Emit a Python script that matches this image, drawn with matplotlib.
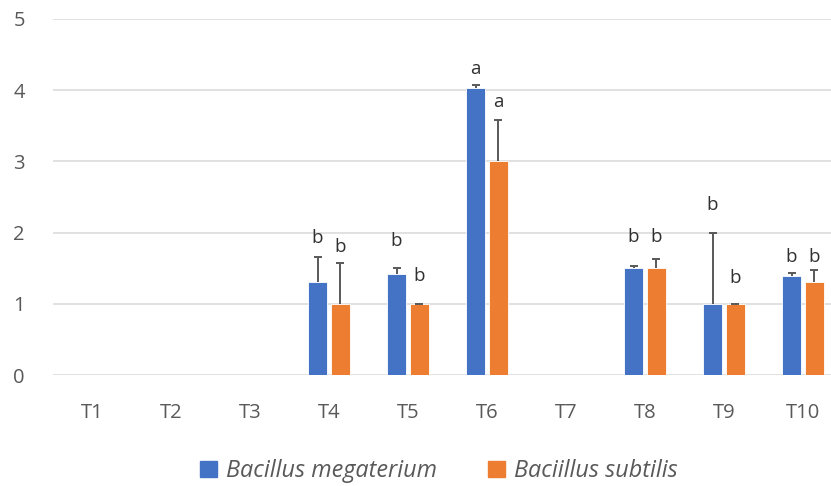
import matplotlib
matplotlib.use("Agg")
import matplotlib.pyplot as plt
import numpy as np

categories = ["T1", "T2", "T3", "T4", "T5", "T6", "T7", "T8", "T9", "T10"]
series_names = ["Bacillus megaterium", "Baciillus subtilis"]
megaterium = [0, 0, 0, 1.30, 1.42, 4.03, 0, 1.50, 1.00, 1.39]
megaterium_err = [0, 0, 0, 0.36, 0.08, 0.05, 0, 0.03, 1.00, 0.04]
subtilis = [0, 0, 0, 1.00, 1.00, 3.00, 0, 1.50, 1.00, 1.30]
subtilis_err = [0, 0, 0, 0.58, 0.00, 0.58, 0, 0.13, 0.00, 0.18]
megaterium_letters = ["", "", "", "b", "b", "a", "", "b", "b", "b"]
subtilis_letters = ["", "", "", "b", "b", "a", "", "b", "b", "b"]
megaterium_letter_y = [0, 0, 0, 1.92, 1.88, 4.30, 0, 1.94, 2.39, 1.66]
subtilis_letter_y = [0, 0, 0, 1.80, 1.39, 3.83, 0, 1.94, 1.36, 1.66]
yticks = [0, 1, 2, 3, 4, 5]

plt.rcParams['font.family'] = ['Open Sans', 'DejaVu Sans']
W, H = 831, 486
fig = plt.figure(figsize=(W / 100, H / 100), dpi=100)
ax = fig.add_axes([52.5 / W, (H - 375) / H, 790 / W, 356 / H])

x = np.arange(len(categories))
bw = 0.23
off = 0.145
blue = "#4472C4"
orange = "#ED7D31"
errc = "#595959"

ax.bar(x - off, megaterium, bw, color=blue, edgecolor="white", linewidth=0.6, zorder=3)
ax.bar(x + off, subtilis, bw, color=orange, edgecolor="white", linewidth=0.6, zorder=3)

for xs, vals, errs in [(x - off, megaterium, megaterium_err), (x + off, subtilis, subtilis_err)]:
    mask = np.array(vals) > 0
    xs_m = xs[mask]
    v = np.array(vals)[mask]
    e = np.array(errs)[mask]
    _, caps, _ = ax.errorbar(xs_m, v, yerr=[np.zeros_like(e), e], fmt="none", ecolor=errc,
                             elinewidth=1.4, capsize=3, capthick=1.4, zorder=4)
    if len(caps) == 2:
        caps[0].set_visible(False)

for xs, letters, ly in [(x - off, megaterium_letters, megaterium_letter_y),
                        (x + off, subtilis_letters, subtilis_letter_y)]:
    for xi, t, yy in zip(xs, letters, ly):
        if t:
            ax.text(xi, yy, t, ha="center", va="center", fontsize=13.5, color="#303030", zorder=5)

ax.set_xlim(-0.5, len(categories) - 0.5)
ax.set_ylim(0, 5)
ax.set_yticks(yticks)
ax.set_xticks(x)
ax.set_xticklabels(categories)
ax.grid(axis="y", color="#D9D9D9", linewidth=1.1, zorder=0)
ax.set_axisbelow(True)
for s in ax.spines.values():
    s.set_visible(False)
ax.tick_params(axis="both", length=0, labelsize=14.5, labelcolor="#595959")
ax.tick_params(axis="y", pad=24)
ax.tick_params(axis="x", pad=20)
for lbl in ax.get_yticklabels():
    lbl.set_horizontalalignment("center")

handles = [plt.Rectangle((0, 0), 1, 1, color=blue), plt.Rectangle((0, 0), 1, 1, color=orange)]
leg = fig.legend(handles, series_names, loc="center", bbox_to_anchor=(439 / W, 1 - 471 / H),
                 ncol=2, frameon=False, prop={"style": "italic", "size": 16.8},
                 handlelength=0.7, handleheight=0.7, handletextpad=0.4, columnspacing=2.2)
for t in leg.get_texts():
    t.set_color("#595959")

fig.savefig("out.png", dpi=100)
